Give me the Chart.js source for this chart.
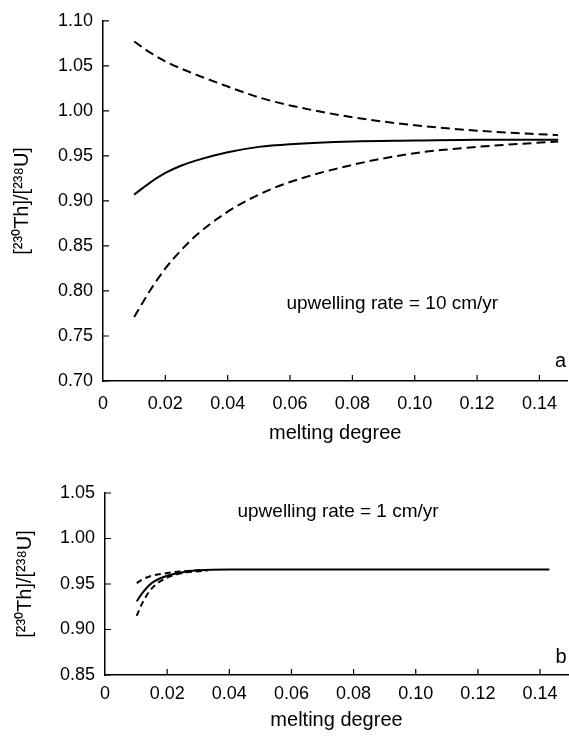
<!DOCTYPE html>
<html>
<head>
<meta charset="utf-8">
<script src="https://cdn.jsdelivr.net/npm/chart.js@4/dist/chart.umd.min.js"></script>
<style>
  body { margin: 0; background: #fff; }
  .box { position: absolute; left: 0; }
</style>
</head>
<body>
<div class="box" style="top:0"><canvas id="chartA" width="569" height="450"></canvas></div>
<div class="box" style="top:460px"><canvas id="chartB" width="569" height="280"></canvas></div>
<script>
// panel a: upwelling rate = 10 cm/yr
const meltA = [0.01, 0.015, 0.02, 0.025, 0.03, 0.04, 0.05, 0.06, 0.08, 0.10, 0.12, 0.146];
const upperA = [1.077, 1.065, 1.055, 1.047, 1.040, 1.027, 1.015, 1.006, 0.993, 0.984, 0.978, 0.973];
const solidA = [0.907, 0.920, 0.931, 0.939, 0.945, 0.954, 0.960, 0.963, 0.966, 0.967, 0.968, 0.968];
const lowerA = [0.771, 0.800, 0.825, 0.845, 0.862, 0.888, 0.907, 0.921, 0.940, 0.953, 0.960, 0.966];

// panel b: upwelling rate = 1 cm/yr
const meltB = [0.0102, 0.012, 0.015, 0.02, 0.025, 0.03, 0.033];
const upperB = [0.951, 0.955, 0.959, 0.962, 0.964, 0.965, 0.965];
const lowerB = [0.915, 0.929, 0.945, 0.957, 0.962, 0.964, 0.965];
const meltBSolid = [0.0102, 0.012, 0.015, 0.02, 0.025, 0.03, 0.04, 0.143];
const solidB = [0.931, 0.940, 0.951, 0.959, 0.963, 0.965, 0.966, 0.966];

const yTitle = "[²³⁰Th]/[²³⁸U]";
const fontFamily = "'Liberation Sans', Arial, Helvetica, sans-serif";

const pts = (xs, ys) => xs.map((x, i) => ({ x, y: ys[i] }));

// tick marks pointing into the plot, plus the annotation texts
const extras = {
  id: "extras",
  afterDraw(chart, args, opts) {
    const { ctx, chartArea: a, scales: { x, y } } = chart;
    ctx.save();
    ctx.strokeStyle = "#000";
    ctx.lineWidth = 1.2;
    ctx.beginPath();
    x.ticks.forEach(t => {
      if (t.value === 0) return;
      const px = x.getPixelForValue(t.value);
      ctx.moveTo(px, a.bottom); ctx.lineTo(px, a.bottom - 6);
    });
    y.ticks.forEach(t => {
      const py = y.getPixelForValue(t.value);
      ctx.moveTo(a.left, py); ctx.lineTo(a.left + 6, py);
    });
    ctx.stroke();
    ctx.fillStyle = "#000";
    ctx.font = "19px " + fontFamily;
    ctx.textAlign = "center";
    ctx.textBaseline = "middle";
    ctx.fillText(opts.text, x.getPixelForValue(opts.tx), y.getPixelForValue(opts.ty));
    ctx.font = "20px " + fontFamily;
    ctx.fillText(opts.letter, a.right - 7, a.bottom - opts.letterDy);
    ctx.restore();
  }
};

function makeChart(id, datasets, yMin, yMax, cfg) {
  return new Chart(document.getElementById(id), {
    type: "line",
    data: { datasets },
    options: {
      responsive: false,
      animation: false,
      layout: { padding: { top: cfg.padTop, right: 1, left: 0, bottom: 0 } },
      plugins: {
        legend: { display: false },
        tooltip: { enabled: false },
        extras: cfg.notes
      },
      elements: { point: { radius: 0 }, line: { borderWidth: 2, borderColor: "#000", cubicInterpolationMode: "monotone" } },
      scales: {
        x: {
          type: "linear",
          min: 0,
          max: 0.149,
          grid: { display: false, drawTicks: false },
          border: { color: "#000", width: 1.5 },
          ticks: {
            stepSize: 0.02,
            includeBounds: false,
            padding: cfg.xTickPad,
            color: "#000",
            font: { family: fontFamily, size: 18 },
            callback: v => v === 0 ? "0" : v.toFixed(2)
          },
          title: {
            display: true,
            text: "melting degree",
            color: "#000",
            font: { family: fontFamily, size: 20 },
            padding: { top: 0, bottom: cfg.xTitlePad }
          },
          afterFit: s => { s.height = cfg.xHeight; }
        },
        y: {
          min: yMin,
          max: yMax,
          grid: { display: false, drawTicks: false },
          border: { color: "#000", width: 1.5 },
          ticks: {
            stepSize: 0.05,
            padding: 10,
            color: "#000",
            font: { family: fontFamily, size: 18 },
            callback: v => v.toFixed(2)
          },
          title: {
            display: true,
            text: yTitle,
            color: "#000",
            font: { family: fontFamily, size: 20 },
            padding: { top: cfg.yTitlePad, bottom: 0 }
          },
          afterFit: s => { s.width = cfg.yWidth; }
        }
      }
    },
    plugins: [extras]
  });
}

makeChart("chartA", [
  { data: pts(meltA, upperA), borderDash: [9, 5] },
  { data: pts(meltA, solidA) },
  { data: pts(meltA, lowerA), borderDash: [9, 5] }
], 0.70, 1.10, {
  padTop: 16, xHeight: 69, xTickPad: 12, xTitlePad: 5, yWidth: 103, yTitlePad: 10,
  notes: { text: "upwelling rate = 10 cm/yr", tx: 0.0928, ty: 0.786, letter: "a", letterDy: 20 }
});

makeChart("chartB", [
  { data: pts(meltB, upperB), borderDash: [6, 4] },
  { data: pts(meltBSolid, solidB) },
  { data: pts(meltB, lowerB), borderDash: [6, 4] }
], 0.85, 1.05, {
  padTop: 33, xHeight: 65, xTickPad: 8, xTitlePad: 8, yWidth: 105, yTitlePad: 13,
  notes: { text: "upwelling rate = 1 cm/yr", tx: 0.075, ty: 1.0294, letter: "b", letterDy: 18 }
});
</script>
</body>
</html>
